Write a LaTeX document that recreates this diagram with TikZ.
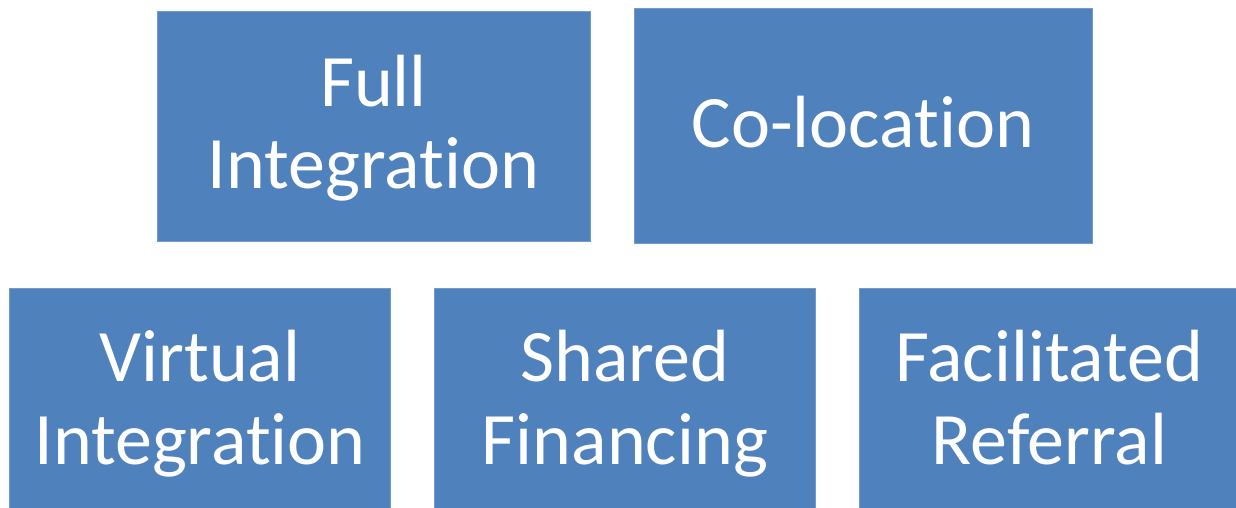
\documentclass[tikz,border=0pt]{standalone}
\usepackage{fontspec}
\setmainfont{Carlito}[Ligatures={NoCommon,TeX}]
\definecolor{boxblue}{RGB}{79,129,189}
\tikzset{
  box/.style={draw=boxblue!80!white, line width=0.8pt, fill=boxblue, inner sep=0pt},
  txt/.style={text=white, font=\fontsize{74}{82}\selectfont, inner sep=0pt, anchor=base}
}
\begin{document}
\begin{tikzpicture}[x=1pt,y=-1pt]
\useasboundingbox (0,0) rectangle (1236,508);
% boxes
\node[box, minimum width=433pt, minimum height=230pt] (full) at (373.5,126) {};
\node[box, minimum width=458pt, minimum height=235pt] (coloc) at (863,126.2) {};
\node[box, minimum width=381pt, minimum height=228pt] (virt) at (200,402) {};
\node[box, minimum width=381pt, minimum height=228pt] (shared) at (625,402) {};
\node[box, minimum width=381pt, minimum height=228pt] (facil) at (1050,402) {};
% labels
\node[txt] (full1) at (373.5,106.7) {Full};
\node[txt] (full2) at (373.5,188.3) {Integration};
\node[txt] (coloc1) at (863,147.7) {Co-location};
\node[txt] (virt1) at (200,381.5) {Virtual};
\node[txt] (virt2) at (200,464) {Integration};
\node[txt] (shared1) at (625,381.5) {Shared};
\node[txt] (shared2) at (625,464) {Financing};
\node[txt] (facil1) at (1049.5,381.5) {Facilitated};
\node[txt] (facil2) at (1049.5,464) {Referral};
\end{tikzpicture}
\end{document}
